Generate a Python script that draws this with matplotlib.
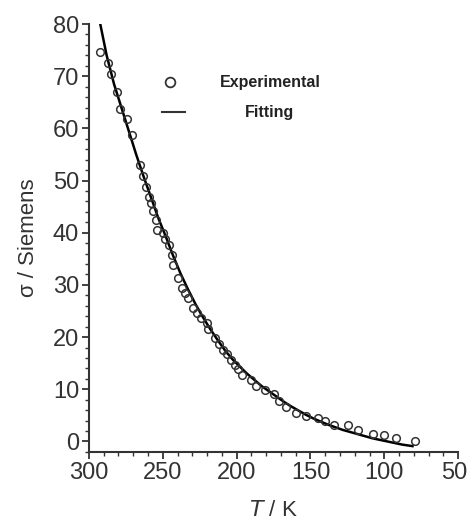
import matplotlib.pyplot as plt
from matplotlib.ticker import MultipleLocator

plt.rcParams['font.family'] = ['Liberation Sans', 'DejaVu Sans']

# experimental points (T in K, sigma in Siemens)
T_exp = [292.6, 287.0, 285.1, 280.9, 279.1, 274.5, 270.7, 265.5, 263.7, 261.5,
         259.5, 258.1, 256.6, 254.9, 253.8, 249.8, 248.2, 245.7, 243.7, 243.0,
         239.6, 236.7, 235.1, 232.9, 229.5, 226.8, 223.9, 220.0, 219.4, 214.9,
         212.0, 209.3, 206.6, 203.6, 201.4, 199.1, 196.2, 190.1, 187.2, 181.1,
         175.0, 171.4, 166.9, 159.7, 152.9, 145.0, 140.5, 133.8, 124.8, 118.1,
         107.9, 100.0, 92.1, 79.1]
sigma_exp = [74.7, 72.6, 70.4, 67.0, 63.7, 61.8, 58.8, 53.0, 50.8, 48.8,
             46.9, 45.7, 44.1, 42.5, 40.6, 39.9, 38.8, 37.7, 35.8, 33.9,
             31.3, 29.4, 28.5, 27.5, 25.6, 24.6, 23.7, 22.7, 21.6, 19.8,
             18.6, 17.6, 16.7, 15.7, 14.7, 13.9, 12.8, 11.7, 10.7, 9.8,
             9.0, 7.7, 6.6, 5.5, 4.8, 4.5, 3.9, 3.1, 3.1, 2.2,
             1.5, 1.2, 0.7, 0.1]

# fitted curve
T_fit = [292.6, 288, 283, 278, 273, 268, 263, 258, 253, 248, 243, 238, 233,
         228, 223, 218, 213, 208, 203, 198, 193, 188, 183, 178, 173, 168,
         163, 158, 153, 148, 143, 138, 133, 128, 123, 118, 113, 108, 103,
         98, 93, 88, 80.9]
sigma_fit = [80.4, 74.0, 68.5, 64.0, 59.5, 55.0, 50.8, 46.8, 42.8, 39.3, 35.6,
             32.2, 29.2, 26.4, 23.9, 21.6, 19.5, 17.5, 15.8, 14.4, 13.0, 11.8,
             10.6, 9.6, 8.6, 7.6, 6.7, 5.9, 5.1, 4.4, 3.8, 3.2, 2.7, 2.2,
             1.8, 1.4, 1.0, 0.6, 0.3, 0.0, -0.3, -0.6, -0.9]

x_ticks = [300, 250, 200, 150, 100, 50]

fig = plt.figure(figsize=(4.68, 5.23), dpi=100)
ax = fig.add_axes([0.190, 0.136, 0.789, 0.818])

ax.plot(T_fit, sigma_fit, color='black', lw=1.8, zorder=2)
ax.plot(T_exp, sigma_exp, 'o', mfc='none', mec='#333333', mew=1.1,
        ms=5.5, zorder=3)

ax.set_xlim(300, 50)
ax.set_ylim(-2, 80)
ax.set_xticks(x_ticks)
# last label nudged left so it stays inside the image
ax.set_xticklabels([str(t) for t in x_ticks[:-1]] + [''])
ax.annotate(str(x_ticks[-1]), xy=(x_ticks[-1], 0),
            xycoords=('data', 'axes fraction'), xytext=(-3, -7.5),
            textcoords='offset points', ha='center', va='top',
            fontsize=17, color='#333333', annotation_clip=False)
ax.xaxis.set_minor_locator(MultipleLocator(10))
ax.yaxis.set_major_locator(MultipleLocator(10))
ax.yaxis.set_minor_locator(MultipleLocator(2))
ax.spines['top'].set_visible(False)
ax.spines['right'].set_visible(False)
for s in ('left', 'bottom'):
    ax.spines[s].set_linewidth(1.5)
    ax.spines[s].set_color('#333333')
ax.tick_params(which='major', direction='out', length=5, width=1.3,
               colors='#333333', labelsize=17, pad=2)
ax.tick_params(which='minor', direction='out', length=3, width=1.0,
               colors='#333333')

ax.set_xlabel(r'$T$ / K', fontsize=16, color='#333333', labelpad=12)
ax.set_ylabel('σ / Siemens', fontsize=16, color='#333333', labelpad=10)

# legend drawn by hand, labels centred under each other
ax.plot([0.22], [0.864], 'o', mfc='none', mec='#333333', mew=1.3, ms=7,
        transform=ax.transAxes, clip_on=False)
ax.plot([0.198, 0.26], [0.794, 0.794], color='#333333', lw=1.5,
        transform=ax.transAxes)
ax.text(0.49, 0.864, 'Experimental', transform=ax.transAxes, ha='center',
        va='center', fontsize=11.5, fontweight='bold', color='#222222')
ax.text(0.49, 0.794, 'Fitting', transform=ax.transAxes, ha='center',
        va='center', fontsize=11.5, fontweight='bold', color='#222222')

fig.savefig('out.png', dpi=100)
